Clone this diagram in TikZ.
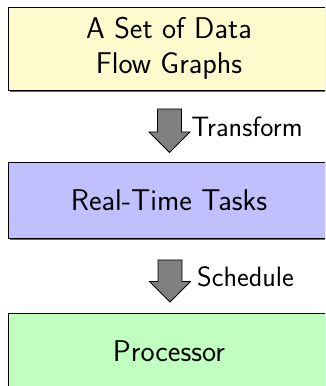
\documentclass[tikz,border=0pt]{standalone}
\usetikzlibrary{shadows}
\definecolor{boxyellow}{RGB}{255,250,205}
\definecolor{boxblue}{RGB}{192,192,255}
\definecolor{boxgreen}{RGB}{192,255,192}
\begin{document}
\begin{tikzpicture}[x=1pt,y=1pt,
  stage/.style={draw=black, line width=0.8pt, minimum width=322pt, inner sep=0pt,
    font=\sffamily\fontsize{30}{35}\selectfont, align=center,
    drop shadow={shadow xshift=1.5pt, shadow yshift=-2pt, fill=black, opacity=0.6}},
  blockarrow/.style={draw=black, line width=0.8pt, fill=black!50, line join=miter},
  steplabel/.style={font=\sffamily\fontsize{28}{32}\selectfont, inner sep=0pt}]
\clip (0,0) rectangle (325,386);
\useasboundingbox (0,0) rectangle (325,386);
\node[stage, fill=boxyellow, minimum height=83pt] (dfg) at (169,337.5) {A Set of Data\\Flow Graphs};
\node[stage, fill=boxblue, minimum height=76pt] (rtt) at (169,186) {Real-Time Tasks};
\node[stage, fill=boxgreen, minimum height=76pt] (proc) at (169,35) {Processor};
\coordinate (a1) at (169.5,277);
\coordinate (a2) at (170,126);
\draw[blockarrow] (a1) ++(-12,0) -- ++(0,-23) -- ++(-8.5,0) -- ++(20.5,-20.5) -- ++(20.5,20.5) -- ++(-8.5,0) -- ++(0,23) -- cycle;
\draw[blockarrow] (a2) ++(-12,0) -- ++(0,-21.5) -- ++(-8.5,0) -- ++(20.5,-20.5) -- ++(20.5,20.5) -- ++(-8.5,0) -- ++(0,21.5) -- cycle;
\node[steplabel, anchor=base] (l1) at (247,249) {Transform};
\node[steplabel, anchor=base] (l2) at (245.5,99) {Schedule};
\end{tikzpicture}
\end{document}
